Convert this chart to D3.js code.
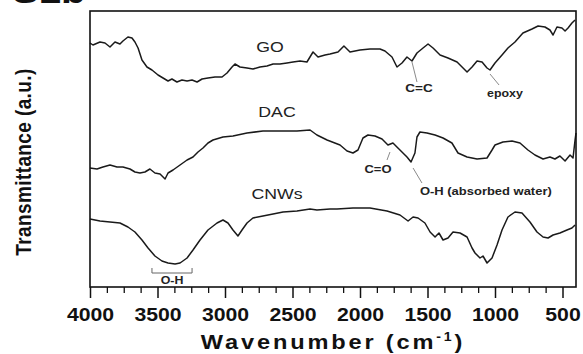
<!DOCTYPE html>
<html>
<head>
<meta charset="utf-8">
<script src="https://cdn.jsdelivr.net/npm/d3@7"></script>
<style>
body { margin: 0; background: #fff; }
svg { display: block; font-family: "Liberation Sans", Arial, sans-serif; }
</style>
</head>
<body>
<svg id="chart" width="583" height="354"></svg>
<script>
// FTIR spectra, wavenumber (cm-1) vs transmittance (a.u., stacked)
const goWave = [4000,3978,3926,3889,3852,3815,3778,3756,3719,3689,3667,3644,3615,3578,3541,3496,3459,3422,3393,3356,3319,3281,3244,3207,3170,3126,3074,3022,2985,2948,2926,2889,2837,2793,2741,2689,2644,2593,2541,2496,2444,2393,2348,2311,2259,2222,2163,2119,2074,2000,1926,1852,1815,1763,1726,1689,1652,1615,1578,1533,1496,1459,1407,1348,1281,1244,1207,1170,1133,1096,1059,1037,1000,948,904,852,793,726,681,630,593,570,541,504,481,459,430,407];
const goT = [244,242,245,244,240,245,243,246,250,249,245,239,227,220,217,212,209,206,208,205,207,206,207,205,208,209,210,210,214,220,223,220,219,218,220,221,223,223,224,225,226,225,235,230,232,233,235,241,235,237,238,238,236,230,220,224,230,226,234,239,243,239,232,229,225,220,215,220,226,225,219,217,224,232,239,245,254,258,261,260,257,252,260,259,256,259,264,267];

const dacWave = [4000,3948,3904,3852,3800,3756,3704,3667,3630,3593,3556,3519,3481,3444,3422,3385,3333,3281,3237,3200,3163,3126,3089,3015,2941,2837,2719,2593,2467,2370,2319,2244,2148,2096,2052,2015,1978,1941,1889,1837,1793,1756,1704,1652,1622,1593,1578,1556,1504,1444,1385,1319,1274,1207,1133,1059,1022,1000,941,874,815,756,704,644,593,556,519,481,444,422,407,400];
const dacT = [119,118,120,122,120,120,118,115,114,115,118,114,113,108,114,117,122,127,130,135,139,144,147,150,151,154,156,156,156,157,152,147,142,136,134,137,149,152,151,148,142,144,137,130,125,134,150,155,154,152,149,144,134,130,128,129,137,142,145,146,144,137,132,128,130,128,131,126,132,129,147,154];

const cnwWave = [4000,3926,3852,3778,3719,3667,3615,3570,3519,3467,3422,3370,3333,3281,3237,3185,3126,3059,3015,2978,2941,2904,2874,2837,2793,2719,2644,2570,2467,2370,2319,2222,2170,2052,1926,1800,1704,1644,1607,1570,1519,1481,1444,1415,1385,1348,1311,1259,1207,1170,1148,1111,1089,1059,1022,985,948,904,852,800,741,689,644,607,570,519,467,430,407];
const cnwT = [68,66,65,64,60,55,47,39,31,26,24,23,24,29,37,47,57,64,67,64,57,51,57,64,69,71,73,75,76,78,77,78,78,79,79,76,72,66,70,69,64,55,50,54,47,49,55,54,50,39,34,29,31,24,29,42,57,70,75,74,65,55,50,49,52,54,57,59,62];

const xTicks = [4000, 3500, 3000, 2500, 2000, 1500, 1000, 500];

const SX = 1.18; // the source picture is stretched sideways

const svg = d3.select('#chart');
const plot = {left: 90, right: 576, top: 11, bottom: 287};

const x = d3.scaleLinear().domain([4000, 400]).range([plot.left, plot.right]);
const y = d3.scaleLinear().domain([0, 276]).range([plot.bottom, plot.top]);

function place(sel, px, py, rot) {
    sel.attr('transform', `translate(${px},${py}) scale(${SX},1)` + (rot ? ` rotate(${rot})` : ''));
}

// panel letter, cut off at the top
svg.append('text')
    .attr('font-size', 34)
    .attr('font-weight', 'bold')
    .attr('fill', '#111')
    .text('S1b')
    .call(place, 12, 3);

// spectra
const line = d3.line().x(d => x(d[0])).y(d => y(d[1]));
const series = [
    {wave: goWave, t: goT},
    {wave: dacWave, t: dacT},
    {wave: cnwWave, t: cnwT}
];
svg.append('g').selectAll('path')
    .data(series)
    .enter()
    .append('path')
    .attr('d', s => line(s.wave.map((w, i) => [w, s.t[i]])))
    .attr('fill', 'none')
    .attr('stroke', '#1a1a1a')
    .attr('stroke-width', 1.5)
    .attr('stroke-linejoin', 'round');

// frame
svg.append('rect')
    .attr('x', plot.left).attr('y', plot.top)
    .attr('width', plot.right - plot.left).attr('height', plot.bottom - plot.top)
    .attr('fill', 'none')
    .attr('stroke', '#111')
    .attr('stroke-width', 1.6);

// x axis: minor ticks every 125, major every 500
const minor = d3.range(4000, 399, -125).filter(v => v % 500 !== 0);
svg.append('g')
    .attr('transform', `translate(0,${plot.bottom})`)
    .call(d3.axisBottom(x).tickValues(minor).tickSize(6).tickFormat(''))
    .call(g => g.select('.domain').remove())
    .call(g => g.selectAll('line').attr('stroke', '#111').attr('stroke-width', 1.3));

const xAxis = svg.append('g')
    .attr('transform', `translate(0,${plot.bottom})`)
    .call(d3.axisBottom(x).tickValues(xTicks).tickSize(11).tickPadding(10).tickFormat(d3.format('d')));
xAxis.select('.domain').remove();
xAxis.selectAll('line').attr('stroke', '#111').attr('stroke-width', 1.5);
xAxis.selectAll('text')
    .attr('font-family', '"Liberation Sans", Arial, sans-serif')
    .attr('font-size', 18)
    .attr('font-weight', 'bold')
    .attr('fill', '#111')
    .attr('transform', `scale(${SX},1)`);

// axis titles
const xTitle = svg.append('text')
    .attr('text-anchor', 'middle')
    .attr('font-size', 20)
    .attr('font-weight', 'bold')
    .attr('letter-spacing', 2.4)
    .attr('fill', '#111')
    .call(place, (plot.left + plot.right) / 2, 349);
xTitle.append('tspan').text('Wavenumber (cm');
xTitle.append('tspan').attr('font-size', 12).attr('dy', -8).text('-1');
xTitle.append('tspan').attr('dy', 8).text(')');

svg.append('text')
    .attr('text-anchor', 'middle')
    .attr('font-size', 19)
    .attr('font-weight', 'bold')
    .attr('letter-spacing', 0.4)
    .attr('fill', '#111')
    .text('Transmittance (a.u.)')
    .call(place, 31, 162, -90);

// series names
const names = [
    {text: 'GO', w: 2667, t: 235},
    {text: 'DAC', w: 2615, t: 170},
    {text: 'CNWs', w: 2615, t: 88}
];
names.forEach(n => {
    svg.append('text')
        .attr('text-anchor', 'middle')
        .attr('font-size', 15)
        .attr('fill', '#222')
        .text(n.text)
        .call(place, x(n.w), y(n.t));
});

// band annotations with leader lines
const notes = [
    {text: 'C=C', w: 1563, t: 195, anchor: 'middle', size: 11.5, from: [1615, 225], to: [1578, 205]},
    {text: 'epoxy', w: 926, t: 190, anchor: 'middle', size: 10.5, from: [1037, 213], to: [970, 202]},
    {text: 'C=O', w: 1867, t: 114, anchor: 'middle', size: 11, from: [1778, 135], to: [1800, 127]},
    {text: 'O-H (absorbed water)', w: 1556, t: 92, anchor: 'start', size: 11, from: [1607, 119], to: [1541, 104]}
];
notes.forEach(n => {
    svg.append('line')
        .attr('x1', x(n.from[0])).attr('y1', y(n.from[1]))
        .attr('x2', x(n.to[0])).attr('y2', y(n.to[1]))
        .attr('stroke', '#8a8a8a')
        .attr('stroke-width', 1);
    svg.append('text')
        .attr('text-anchor', n.anchor)
        .attr('font-size', n.size)
        .attr('font-weight', 'bold')
        .attr('fill', '#222')
        .text(n.text)
        .call(place, x(n.w), y(n.t));
});

// O-H stretching bracket on CNWs
const ohFrom = 3541, ohTo = 3244;
svg.append('path')
    .attr('d', `M${x(ohFrom)},${y(19)}V${y(14)}H${x(ohTo)}V${y(19)}`)
    .attr('fill', 'none')
    .attr('stroke', '#666')
    .attr('stroke-width', 1);
svg.append('text')
    .attr('text-anchor', 'middle')
    .attr('font-size', 10.5)
    .attr('font-weight', 'bold')
    .attr('fill', '#222')
    .text('O-H')
    .call(place, x((ohFrom + ohTo) / 2), y(3));
</script>
</body>
</html>
